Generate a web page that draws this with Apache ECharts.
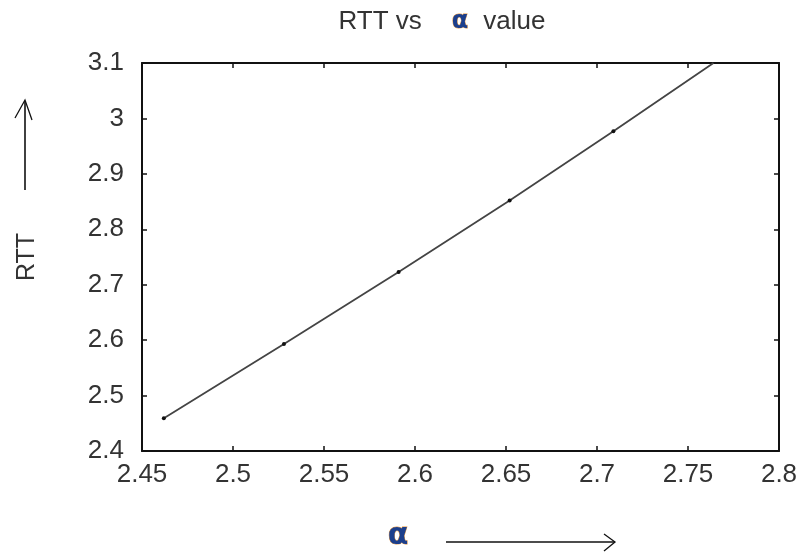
<!DOCTYPE html>
<html>
<head>
<meta charset="utf-8">
<script src="https://cdn.jsdelivr.net/npm/echarts@6/dist/echarts.min.js"></script>
<style>
  html, body { margin: 0; padding: 0; background: #fff; }
  #main { width: 804px; height: 552px; }
</style>
</head>
<body>
<div id="main"></div>
<script>
// alpha values and the RTT
var alphaVals = [2.462, 2.528, 2.591, 2.652, 2.709, 2.764];
var rttVals = [2.459, 2.593, 2.723, 2.852, 2.977, 3.1];
var xTicks = [2.45, 2.5, 2.55, 2.6, 2.65, 2.7, 2.75, 2.8];
var yTicks = [2.4, 2.5, 2.6, 2.7, 2.8, 2.9, 3, 3.1];

var myChart = echarts.init(document.getElementById('main'));

var pts = alphaVals.map(function (a, i) {
    // last point is only where the line leaves the frame, no dot there
    return { value: [a, rttVals[i]], symbolSize: i === alphaVals.length - 1 ? 0 : 4 };
});

var font = 'Liberation Sans, Arial, sans-serif';

function frameAxis(extra) {
    var ax = {
        type: 'value',
        splitLine: { show: false },
        axisLine: { show: true, onZero: false, lineStyle: { color: '#111', width: 2 } },
        axisTick: { show: true, inside: true, length: 5, lineStyle: { color: '#111', width: 1.5 } }
    };
    for (var k in extra) ax[k] = extra[k];
    return ax;
}

option = {
    animation: false,
    title: {
        text: '{t|RTT vs}{a|α}{t|value}',
        left: 437,
        textAlign: 'center',
        top: 4,
        textStyle: {
            fontWeight: 'normal',
            rich: {
                t: { color: '#333', fontSize: 26, fontWeight: 'normal', fontFamily: font },
                a: { color: '#1c3f8c', fontSize: 24, fontWeight: 'bold', fontFamily: 'DejaVu Sans', padding: [0, 15, 0, 30], textBorderColor: '#e8963a', textBorderWidth: 0.8 }
            }
        }
    },
    grid: { left: 142, right: 25, top: 63, bottom: 101, containLabel: false, outerBoundsMode: 'none' },
    xAxis: [
        frameAxis({
            min: xTicks[0], max: xTicks[xTicks.length - 1], interval: 0.05,
            axisLabel: { show: true, margin: 11, formatter: function (v) { return String(+v.toFixed(2)); }, color: '#333', fontSize: 26, fontFamily: font },
            name: 'α', nameLocation: 'middle', nameGap: 70,
            nameTextStyle: { color: '#1c3f8c', fontSize: 30, fontWeight: 'bold', fontFamily: 'DejaVu Sans', padding: [0, 125, 0, 0], textBorderColor: '#e8963a', textBorderWidth: 0.8 }
        }),
        frameAxis({
            position: 'top', min: xTicks[0], max: xTicks[xTicks.length - 1], interval: 0.05,
            axisLabel: { show: false }
        })
    ],
    yAxis: [
        frameAxis({
            min: yTicks[0], max: yTicks[yTicks.length - 1], interval: 0.1,
            axisLabel: { show: true, margin: 18, formatter: function (v) { return String(+v.toFixed(1)); }, color: '#333', fontSize: 26, fontFamily: font },
            name: 'RTT', nameLocation: 'middle', nameGap: 102, nameRotate: 90,
            nameTextStyle: { color: '#333', fontSize: 25, fontFamily: font }
        }),
        frameAxis({
            position: 'right', min: yTicks[0], max: yTicks[yTicks.length - 1], interval: 0.1,
            axisLabel: { show: false }
        })
    ],
    series: [{
        type: 'line',
        data: pts,
        symbol: 'circle',
        showSymbol: true,
        itemStyle: { color: '#111' },
        lineStyle: { color: '#444', width: 1.8 },
        clip: true
    }],
    graphic: [
        // arrow beside the RTT label
        { type: 'line', shape: { x1: 25, y1: 190, x2: 25, y2: 101 }, style: { stroke: '#111', lineWidth: 1.6 } },
        { type: 'polyline', shape: { points: [[15, 118], [25, 100], [32, 120]] }, style: { stroke: '#111', lineWidth: 1.3, fill: null } },
        // arrow beside the alpha label
        { type: 'line', shape: { x1: 446, y1: 542, x2: 615, y2: 542 }, style: { stroke: '#111', lineWidth: 1.6 } },
        { type: 'polyline', shape: { points: [[604, 534], [615, 542], [604, 551]] }, style: { stroke: '#111', lineWidth: 1.3, fill: null } }
    ]
};

myChart.setOption(option);
window.addEventListener("resize", function () {
    myChart.resize();
});
</script>
</body>
</html>
